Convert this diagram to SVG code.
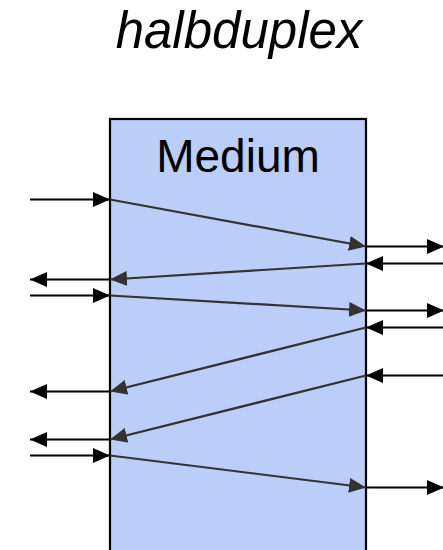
<svg xmlns="http://www.w3.org/2000/svg" width="443" height="550" viewBox="0 0 443 550">
  <style>
    .ext { stroke: #000; stroke-width: 2.2; fill: none; marker-end: url(#headBlack); }
    .msg { stroke: #333; stroke-width: 2.2; fill: none; marker-end: url(#headGrey); }
    .label { font-family: "Liberation Sans", Arial, sans-serif; fill: #000; text-anchor: middle; }
  </style>
  <defs>
    <marker id="headBlack" markerUnits="userSpaceOnUse" viewBox="0 0 17 15" refX="17" refY="7.5" markerWidth="17" markerHeight="15" orient="auto">
      <path d="M0,0 L17,7.5 L0,15 Z" fill="#000"/>
    </marker>
    <marker id="headGrey" markerUnits="userSpaceOnUse" viewBox="0 0 17 15" refX="17" refY="7.5" markerWidth="17" markerHeight="15" orient="auto">
      <path d="M0,0 L17,7.5 L0,15 Z" fill="#333"/>
    </marker>
  </defs>

  <rect width="443" height="550" fill="#fff"/>

  <text class="label" x="239" y="48" font-size="51" font-style="italic">halbduplex</text>

  <g id="medium">
    <rect x="110" y="119" width="256" height="460" fill="#bacef7" stroke="#000" stroke-width="2.2"/>
    <text class="label" x="238" y="172" font-size="46">Medium</text>
  </g>

  <g id="connectors">
    <!-- left side, station A -->
    <line class="ext" x1="30" y1="199.5" x2="110" y2="199.5"/>
    <line class="ext" x1="110" y1="279.5" x2="30" y2="279.5"/>
    <line class="ext" x1="30" y1="295.5" x2="110" y2="295.5"/>
    <line class="ext" x1="110" y1="391.5" x2="30" y2="391.5"/>
    <line class="ext" x1="110" y1="439.5" x2="30" y2="439.5"/>
    <line class="ext" x1="30" y1="455.5" x2="110" y2="455.5"/>

    <!-- right side, station B -->
    <line class="ext" x1="366" y1="246.5" x2="444" y2="246.5"/>
    <line class="ext" x1="444" y1="263.5" x2="366" y2="263.5"/>
    <line class="ext" x1="366" y1="310.5" x2="444" y2="310.5"/>
    <line class="ext" x1="444" y1="327.5" x2="366" y2="327.5"/>
    <line class="ext" x1="444" y1="375.5" x2="366" y2="375.5"/>
    <line class="ext" x1="366" y1="487.5" x2="444" y2="487.5"/>

    <!-- transfers through the medium -->
    <line class="msg" x1="110" y1="199.5" x2="366" y2="246.5"/>
    <line class="msg" x1="366" y1="263.5" x2="110" y2="279.5"/>
    <line class="msg" x1="110" y1="295.5" x2="366" y2="310.5"/>
    <line class="msg" x1="366" y1="327.5" x2="110" y2="391.5"/>
    <line class="msg" x1="366" y1="375.5" x2="110" y2="439.5"/>
    <line class="msg" x1="110" y1="455.5" x2="366" y2="487.5"/>
  </g>
</svg>
